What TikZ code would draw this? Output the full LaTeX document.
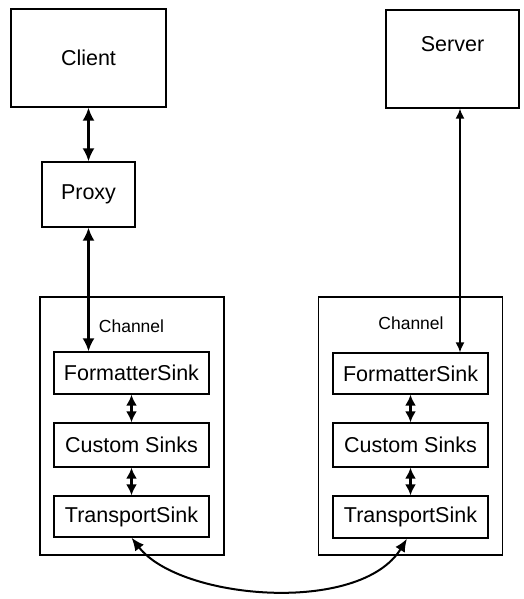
\documentclass[tikz,border=0pt]{standalone}
\usepackage{fontspec}
\setmainfont{Liberation Sans}
\usetikzlibrary{arrows.meta}
\begin{document}
\begin{tikzpicture}[x=1pt,y=-1pt,
  box/.style={draw=black, line width=1.3pt, inner sep=0pt,
    font=\fontsize{21.5}{24}\selectfont},
  sinkbox/.style={box, minimum width=155pt},
  frame/.style={draw=black, line width=1.1pt, inner sep=0pt,
    minimum width=184pt, minimum height=258pt},
  chlabel/.style={font=\fontsize{17.5}{20}\selectfont, inner sep=0pt},
  bigarr/.style={line width=2.2pt, {Latex[length=13pt,width=12pt]}-{Latex[length=13pt,width=12pt]}},
  smallarr/.style={line width=2.2pt, {Latex[length=11pt,width=11pt]}-{Latex[length=11pt,width=11pt]}},
  thinarr/.style={line width=1.6pt, {Latex[length=10pt,width=9pt]}-{Latex[length=10pt,width=9pt]}},
  curvearr/.style={line width=2pt, {Latex[length=13pt,width=11pt]}-{Latex[length=13pt,width=11pt]}},
]
\useasboundingbox (0,0) rectangle (524,599);

% top row
\node[box, minimum width=155pt, minimum height=98pt] (cli) at (88.5,58) {Client};
\node[box, minimum width=93pt, minimum height=65pt] (prx) at (88.5,194.5) {Proxy};
\node[box, minimum width=133pt, minimum height=98pt,
  label={[anchor=center, yshift=-35pt, font=\fontsize{21.5}{24}\selectfont]north:Server}] (srv) at (452.5,59) {};

% client-side channel
\node[frame] (lch) at (132,426) {};
\node[chlabel] (lchl) at (131.5,326) {Channel};
\node[sinkbox, minimum height=42pt] (lfmt) at (131.5,373) {FormatterSink};
\node[sinkbox, minimum height=44pt] (lcus) at (131.5,445) {Custom Sinks};
\node[sinkbox, minimum height=41pt] (ltr) at (131.5,516.5) {TransportSink};

% server-side channel
\node[frame] (rch) at (410.5,426) {};
\node[chlabel] (rchl) at (411,323) {Channel};
\node[sinkbox, minimum height=41pt] (rfmt) at (410.5,373.5) {FormatterSink};
\node[sinkbox, minimum height=44pt] (rcus) at (410.5,445) {Custom Sinks};
\node[sinkbox, minimum height=42pt] (rtr) at (410.5,517) {TransportSink};

% connectors
\draw[bigarr] (cli.south) -- (prx.north);
\draw[bigarr] (prx.south) -- (prx.south |- lfmt.north);
\coordinate (sx) at (460,0);
\draw[thinarr] (srv.south -| sx) -- (rfmt.north -| sx);

\draw[smallarr] (lfmt.south) -- (lcus.north);
\draw[smallarr] (lcus.south) -- (ltr.north);
\draw[smallarr] (rfmt.south) -- (rcus.north);
\draw[smallarr] (rcus.south) -- (rtr.north);

\draw[curvearr]
  (ltr.south) .. controls (180,600) and (360,615) .. ([xshift=-3.5pt]rtr.south);
\end{tikzpicture}
\end{document}
